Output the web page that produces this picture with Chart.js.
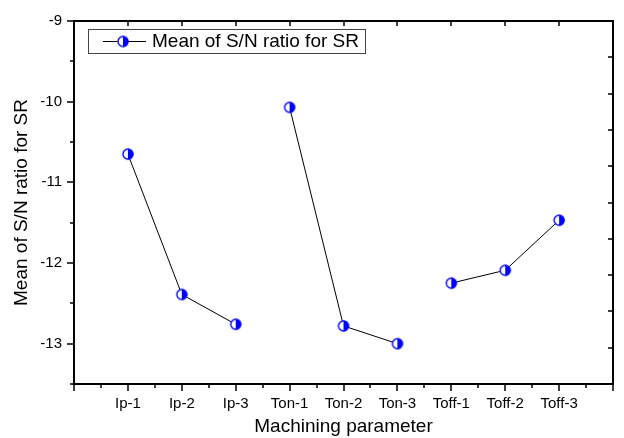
<!DOCTYPE html>
<html>
<head>
<meta charset="utf-8">
<script src="https://cdn.jsdelivr.net/npm/chart.js@4/dist/chart.umd.min.js"></script>
<style>
  html, body { margin: 0; padding: 0; background: #fff; }
  #wrap { width: 624px; height: 438px; }
</style>
</head>
<body>
<div id="wrap"><canvas id="snChart" width="624" height="438"></canvas></div>
<script>
// Category labels along the x axis
const categories = ['Ip-1', 'Ip-2', 'Ip-3', 'Ton-1', 'Ton-2', 'Ton-3', 'Toff-1', 'Toff-2', 'Toff-3'];
// Mean S/N ratio for SR
const snMeans = [-10.65, -12.39, -12.76, -10.07, -12.78, -13.0, -12.25, -12.09, -11.47];
// Labelled y ticks
const yTicks = [-13, -12, -11, -10, -9];

const FONT = "'Liberation Sans', Arial, sans-serif";
const BLUE = '#0000ff';

// Half filled circle marker (right half blue)
function makeMarker(r) {
  const c = document.createElement('canvas');
  const s = r * 2 + 3;
  c.width = s; c.height = s;
  const g = c.getContext('2d');
  const cx = s / 2, cy = s / 2;
  g.fillStyle = '#fff';
  g.beginPath(); g.arc(cx, cy, r, 0, Math.PI * 2); g.fill();
  g.fillStyle = BLUE;
  g.beginPath(); g.arc(cx, cy, r, -Math.PI / 2, Math.PI / 2); g.closePath(); g.fill();
  g.strokeStyle = BLUE; g.lineWidth = 1.4;
  g.beginPath(); g.arc(cx, cy, r - 0.5, 0, Math.PI * 2); g.stroke();
  return c;
}
const marker = makeMarker(5.5);

const groupOf = (i) => categories[i].split('-')[0];

// Frame, ticks on all four sides, and the boxed legend
const framePlugin = {
  id: 'frame',
  afterDraw(chart) {
    const { ctx, chartArea: a, scales } = chart;
    const x = scales.x, y = scales.y;
    ctx.save();
    ctx.strokeStyle = '#000';
    ctx.lineWidth = 2;
    ctx.strokeRect(a.left, a.top, a.right - a.left, a.bottom - a.top);
    ctx.lineWidth = 1.5;
    ctx.beginPath();
    // bottom ticks (outward, with minors) and top ticks (inward, majors only)
    for (let v = x.min; v <= x.max + 1e-9; v += 0.5) {
      const px = Math.round(x.getPixelForValue(v));
      const major = Math.abs(v - Math.round(v)) < 1e-9;
      ctx.moveTo(px, a.bottom); ctx.lineTo(px, a.bottom + (major ? 7 : 4));
      if (major) { ctx.moveTo(px, a.top); ctx.lineTo(px, a.top + 5); }
    }
    // left ticks (outward)
    for (let v = y.min; v <= y.max + 1e-9; v += 0.5) {
      const py = Math.round(y.getPixelForValue(v));
      const major = Math.abs(v - Math.round(v)) < 1e-9;
      ctx.moveTo(a.left, py); ctx.lineTo(a.left - (major ? 7 : 4), py);
    }
    // right axis ticks (inward, ten divisions)
    for (let i = 0; i <= 10; i++) {
      const py = Math.round(a.top + (a.bottom - a.top) * i / 10);
      ctx.moveTo(a.right, py); ctx.lineTo(a.right - 5, py);
    }
    ctx.stroke();

    // legend
    const lx = 88, ly = 29, lw = 277, lh = 24;
    ctx.lineWidth = 1;
    ctx.strokeStyle = '#444';
    ctx.strokeRect(lx + 0.5, ly + 0.5, lw, lh);
    ctx.strokeStyle = '#000';
    ctx.beginPath();
    ctx.moveTo(lx + 15, ly + 12.5); ctx.lineTo(lx + 58, ly + 12.5);
    ctx.stroke();
    ctx.drawImage(marker, lx + 35 - marker.width / 2, ly + 12.5 - marker.height / 2);
    ctx.fillStyle = '#000';
    ctx.font = '19px ' + FONT;
    ctx.textBaseline = 'middle';
    ctx.fillText(chart.data.datasets[0].label, lx + 64, ly + 13);
    ctx.restore();
  }
};

new Chart(document.getElementById('snChart'), {
  type: 'line',
  data: {
    datasets: [{
      label: 'Mean of S/N ratio for SR',
      data: snMeans.map((v, i) => ({ x: i + 1, y: v })),
      borderColor: '#000',
      borderWidth: 1,
      pointStyle: marker,
      pointRadius: 6,
      tension: 0,
      segment: {
        borderColor: (c) => groupOf(c.p0DataIndex) !== groupOf(c.p1DataIndex) ? 'rgba(0,0,0,0)' : '#000'
      }
    }]
  },
  plugins: [framePlugin],
  options: {
    responsive: false,
    animation: false,
    layout: { padding: { top: 13, right: 11, left: 0, bottom: 0 } },
    plugins: { legend: { display: false }, tooltip: { enabled: false } },
    scales: {
      x: {
        type: 'linear',
        min: 0,
        max: 10,
        afterFit: (s) => { s.height = 54; },
        afterBuildTicks: (s) => { s.ticks = categories.map((c, i) => ({ value: i + 1 })); },
        grid: { display: false, drawTicks: false },
        border: { display: false },
        ticks: {
          autoSkip: false,
          maxRotation: 0,
          padding: 11,
          color: '#000',
          font: { family: FONT, size: 15 },
          callback: (v) => categories[v - 1] || ''
        },
        title: {
          display: true,
          text: 'Machining parameter',
          color: '#000',
          font: { family: FONT, size: 19 },
          padding: { top: 0, bottom: 0 }
        }
      },
      y: {
        min: -13.5,
        max: -9,
        afterFit: (s) => { s.width = 74; },
        afterBuildTicks: (s) => { s.ticks = yTicks.map((v) => ({ value: v })); },
        grid: { display: false, drawTicks: false },
        border: { display: false },
        ticks: {
          padding: 12,
          color: '#000',
          font: { family: FONT, size: 15 }
        },
        title: {
          display: true,
          text: 'Mean of S/N ratio for SR',
          color: '#000',
          font: { family: FONT, size: 19 },
          padding: { top: 10, bottom: 0 }
        }
      }
    }
  }
});
</script>
</body>
</html>
